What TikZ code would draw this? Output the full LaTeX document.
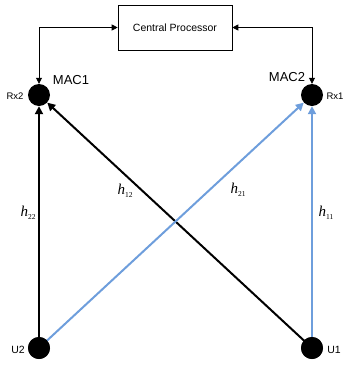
\documentclass[tikz,border=0pt]{standalone}
\usepackage{fontspec}
\setmainfont{Liberation Sans}
\newfontfamily\tnr{Liberation Serif}
\usetikzlibrary{arrows.meta}
\definecolor{lblue}{RGB}{110,158,220}
\newcommand{\hsub}[1]{{\tnr\itshape h}\raisebox{-3pt}{\tnr\fontsize{7.5}{8}\selectfont #1}}
\begin{document}
\begin{tikzpicture}[x=1pt,y=-1pt,
  dot/.style={circle,fill=black,minimum size=22pt,inner sep=0pt},
  chan/.style={line width=2pt,-{Triangle[length=8pt,width=8pt]}},
  ctrl/.style={line width=0.8pt,{Triangle[length=6pt,width=6pt]}-{Triangle[length=6pt,width=6pt]}},
  small/.style={font=\fontsize{9.5}{10}\selectfont},
  mac/.style={font=\fontsize{13}{14}\selectfont},
  hl/.style={font=\fontsize{15}{16}\selectfont}]
\useasboundingbox (0,0) rectangle (346,365);
\node[draw,line width=0.6pt,minimum width=114pt,minimum height=45pt,inner sep=0pt,font=\fontsize{10.5}{12}\selectfont] (cp) at (175,27.5) {Central Processor};
\node[dot] (rx2) at (39,95) {};
\node[dot] (rx1) at (312,95) {};
\node[dot] (u2) at (39,348) {};
\node[dot] (u1) at (312,348) {};
\coordinate (cl) at (39,27.5);
\coordinate (cr) at (312,27.5);
\draw[ctrl] (rx2.north) -- (cl) -- (cp.west);
\draw[ctrl] (rx1.north) -- (cr) -- (cp.east);
\draw[chan] (u2.center) -- (rx2);
\draw[chan] (u1.center) -- (rx2);
\draw[chan,lblue] (u2.center) -- (rx1);
\draw[chan,lblue] (u1.center) -- (rx1);
\fill (u2) circle (11pt);
\fill (u1) circle (11pt);
\node[mac] (m1) at (71,80) {MAC1};
\node[mac] (m2) at (287,77) {MAC2};
\node[small] (l2) at (15,96) {Rx2};
\node[small] (l1) at (335,96) {Rx1};
\node[small,font=\fontsize{10.5}{12}\selectfont] (lu2) at (18,350) {U2};
\node[small,font=\fontsize{10.5}{12}\selectfont] (lu1) at (334,350) {U1};
\node[hl] (h22) at (28,213) {\hsub{22}};
\node[hl] (h12) at (125,191) {\hsub{12}};
\node[hl] (h21) at (238,190) {\hsub{21}};
\node[hl] (h11) at (326,213) {\hsub{11}};
\end{tikzpicture}
\end{document}
